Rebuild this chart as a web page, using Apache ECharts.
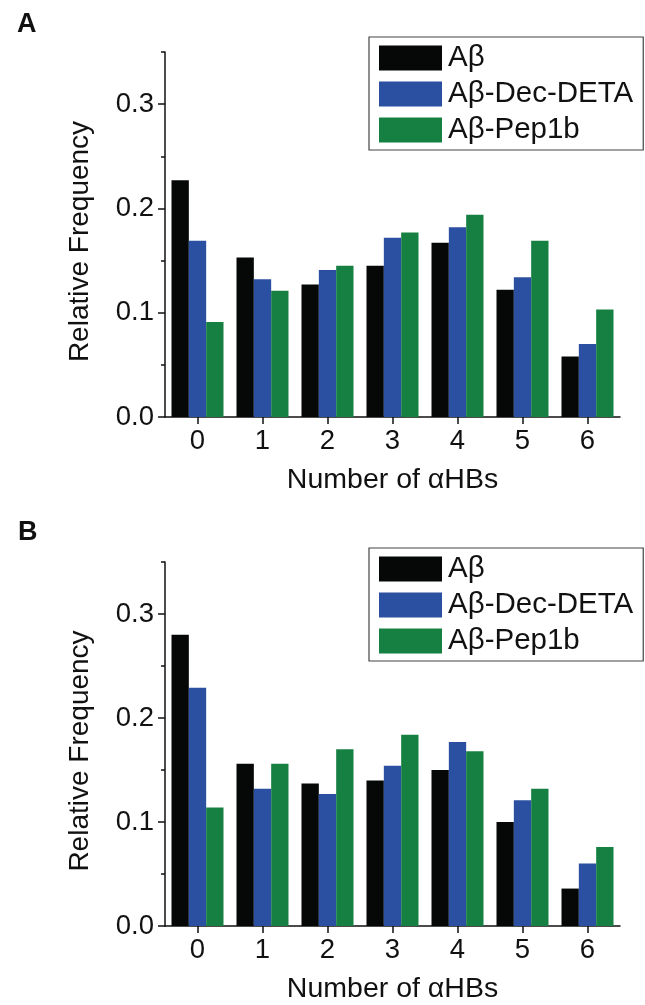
<!DOCTYPE html>
<html>
<head>
<meta charset="utf-8">
<script src="https://cdn.jsdelivr.net/npm/echarts@6/dist/echarts.min.js"></script>
<style>
html,body{margin:0;padding:0;background:#fff;}
#chart{width:645px;height:1005px;}
</style>
</head>
<body>
<div id="chart"></div>
<script>
var categories = ['0','1','2','3','4','5','6'];
var seriesNames = ['Aβ','Aβ-Dec-DETA','Aβ-Pep1b'];
var colors = ['#050807','#2b4fa1','#168043'];
// Panel A
var a_Ab      = [0.227,0.153,0.127,0.145,0.167,0.122,0.058];
var a_DecDETA = [0.169,0.132,0.141,0.172,0.182,0.134,0.070];
var a_Pep1b   = [0.091,0.121,0.145,0.177,0.194,0.169,0.103];
// Panel B
var b_Ab      = [0.280,0.156,0.137,0.140,0.150,0.100,0.036];
var b_DecDETA = [0.229,0.132,0.127,0.154,0.177,0.121,0.060];
var b_Pep1b   = [0.114,0.156,0.170,0.184,0.168,0.132,0.076];
var yMajorTicks = [0,0.1,0.2,0.3];
var yMinorTicks = [0.05,0.15,0.25,0.35];
var yMin = 0, yMax = 0.35;
var panelLabels = ['A','B'];

var FONT = 'Liberation Sans, Arial, sans-serif';
var chart = echarts.init(document.getElementById('chart'), null, {renderer:'canvas'});

var grids = [
  {left:165, right:25, top:52, height:365},
  {left:165, right:25, top:562, height:366}
];

var xAxes = [], yAxes = [], series = [], legends = [];
[0,1].forEach(function(g){
  xAxes.push({
    type:'category', gridIndex:g, data:categories, boundaryGap:true,
    name:'Number of αHBs', nameLocation:'middle', nameGap:49,
    nameTextStyle:{fontFamily:FONT, fontSize:28.5, color:'#111'},
    axisLine:{show:true, lineStyle:{color:'#111', width:1.5}},
    axisTick:{show:true, alignWithLabel:true, length:7, lineStyle:{color:'#111', width:1.5}},
    axisLabel:{fontFamily:FONT, fontSize:27.5, color:'#111', margin:10},
    splitLine:{show:false}
  });
  yAxes.push({
    type:'value', gridIndex:g, min:yMin, max:yMax,
    name:'Relative Frequency', nameLocation:'middle', nameGap:71, nameRotate:90,
    nameTextStyle:{fontFamily:FONT, fontSize:28, color:'#111', padding:[0,14,0,0]},
    axisLine:{show:true, onZero:false, lineStyle:{color:'#111', width:1.5}},
    axisTick:{show:true, length:7, customValues:yMajorTicks, lineStyle:{color:'#111', width:1.5}},
    axisLabel:{fontFamily:FONT, fontSize:27.5, color:'#111', margin:11, customValues:yMajorTicks,
      formatter:function(v){return v.toFixed(1);}},
    splitLine:{show:false}
  });
  yAxes.push({
    type:'value', gridIndex:g, min:yMin, max:yMax, position:'left',
    axisLine:{show:false},
    axisTick:{show:true, length:4, customValues:yMinorTicks, lineStyle:{color:'#111', width:1.5}},
    axisLabel:{show:false},
    splitLine:{show:false}
  });
});

var dataA = [a_Ab, a_DecDETA, a_Pep1b];
var dataB = [b_Ab, b_DecDETA, b_Pep1b];
[dataA, dataB].forEach(function(ds, g){
  ds.forEach(function(d, i){
    series.push({
      type:'bar', name:seriesNames[i], xAxisIndex:g, yAxisIndex:g*2,
      data:d, barGap:'0%', barCategoryGap:'20%',
      itemStyle:{color:colors[i]}
    });
  });
});

[37,548].forEach(function(top){
  legends.push({
    orient:'vertical', left:369, top:top,
    data:seriesNames,
    itemWidth:63, itemHeight:25, itemGap:6,
    padding:[6,10,5,10],
    borderColor:'#444', borderWidth:1.2,
    icon:'rect',
    selectedMode:false,
    textStyle:{fontFamily:FONT, fontSize:29.5, color:'#111', padding:[0,0,0,1]}
  });
});

chart.setOption({
  animation:false,
  backgroundColor:'#fff',
  grid:grids,
  xAxis:xAxes,
  yAxis:yAxes,
  legend:legends,
  series:series,
  graphic:[
    {type:'text', left:17, top:11, style:{text:panelLabels[0], font:'bold 27px '+FONT, fill:'#111'}},
    {type:'text', left:18, top:519, style:{text:panelLabels[1], font:'bold 27px '+FONT, fill:'#111'}}
  ]
});
</script>
</body>
</html>
